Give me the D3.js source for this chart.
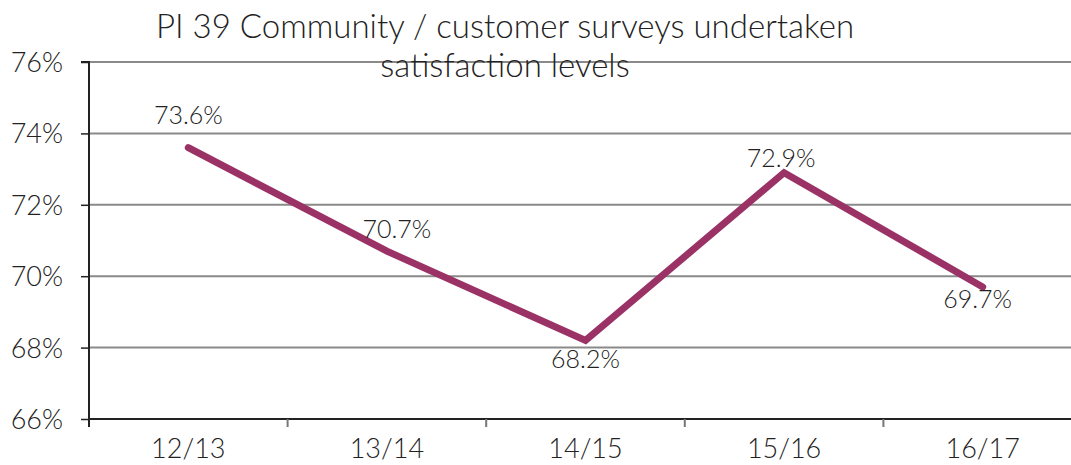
<!DOCTYPE html>
<html>
<head>
<meta charset="utf-8">
<script src="https://cdn.jsdelivr.net/npm/d3@7"></script>
<style>
  body { margin: 0; background: #fff; }
  svg { display: block; font-family: Lato, "Open Sans", sans-serif; font-weight: 300; }
</style>
</head>
<body>
<div id="chart"></div>
<script>
let width = 1071;
let height = 465;

// data
const years = ['12/13', '13/14', '14/15', '15/16', '16/17'];
const satisfaction = [73.6, 70.7, 68.2, 72.9, 69.7];
const yTicks = [66, 68, 70, 72, 74, 76];
const titleLines = ['PI 39 Community / customer surveys undertaken', 'satisfaction levels'];

// where each data label sits relative to its point (dx, dy of baseline)
const labelShift = [[0, -24], [10, -13], [0, 28], [-3, -6], [-5, 21]];

const plotLeft = 89, plotRight = 1082, plotTop = 62, plotBottom = 419;

const svg = d3.select('#chart').append('svg')
    .attr('width', width)
    .attr('height', height);

const x = d3.scaleBand().domain(years).range([plotLeft, plotRight]).padding(0);
const y = d3.scaleLinear().domain([66, 76]).range([plotBottom, plotTop]);

// gridlines
svg.append('g')
    .selectAll('line')
    .data(yTicks.slice(1))
    .join('line')
    .attr('x1', plotLeft).attr('x2', width)
    .attr('y1', d => y(d)).attr('y2', d => y(d))
    .attr('stroke', '#8a8a8a')
    .attr('stroke-width', 2);

// y axis
const yAxis = svg.append('g')
    .attr('transform', `translate(${plotLeft},0)`)
    .call(d3.axisLeft(y).tickValues(yTicks).tickFormat(d => d + '%').tickSize(8).tickPadding(18))
    .attr('font-family', null).attr('font-size', null);
yAxis.select('.domain').attr('stroke', '#222').attr('stroke-width', 2)
    .attr('d', `M-8,${plotTop}H0V${plotBottom + 8}`);
yAxis.selectAll('.tick line').attr('stroke', '#222').attr('stroke-width', 1.5);
yAxis.selectAll('.tick text')
    .attr('fill', '#222')
    .style('font-size', '27px')
    .attr('dy', '0.35em');

// x axis
const xAxis = svg.append('g')
    .attr('transform', `translate(0,${plotBottom})`)
    .call(d3.axisBottom(x).tickSize(0).tickPadding(20))
    .attr('font-family', null).attr('font-size', null);
xAxis.select('.domain').attr('stroke', '#222').attr('stroke-width', 2)
    .attr('d', `M${plotLeft},0H${width}`);
xAxis.selectAll('.tick text')
    .attr('fill', '#222')
    .style('font-size', '27px');
svg.append('g')
    .selectAll('line')
    .data(years.slice(1))
    .join('line')
    .attr('x1', d => x(d)).attr('x2', d => x(d))
    .attr('y1', plotBottom).attr('y2', plotBottom + 8)
    .attr('stroke', '#777')
    .attr('stroke-width', 2);

// line
const line = d3.line()
    .x((d, i) => x(years[i]) + x.bandwidth() / 2)
    .y(d => y(d));
svg.append('path')
    .datum(satisfaction)
    .attr('d', line)
    .attr('fill', 'none')
    .attr('stroke', '#9b3266')
    .attr('stroke-width', 7)
    .attr('stroke-linejoin', 'miter')
    .attr('stroke-linecap', 'round');

// data labels
svg.append('g')
    .selectAll('text')
    .data(satisfaction)
    .join('text')
    .attr('x', (d, i) => x(years[i]) + x.bandwidth() / 2 + labelShift[i][0])
    .attr('y', (d, i) => y(d) + labelShift[i][1])
    .attr('text-anchor', 'middle')
    .attr('fill', '#222')
    .style('font-size', '25px')
    .text(d => d.toFixed(1) + '%');

// title
svg.append('g')
    .selectAll('text')
    .data(titleLines)
    .join('text')
    .attr('x', 505)
    .attr('y', (d, i) => 38 + i * 39)
    .attr('text-anchor', 'middle')
    .attr('fill', '#222')
    .style('font-size', '33px')
    .text(d => d);
</script>
</body>
</html>
